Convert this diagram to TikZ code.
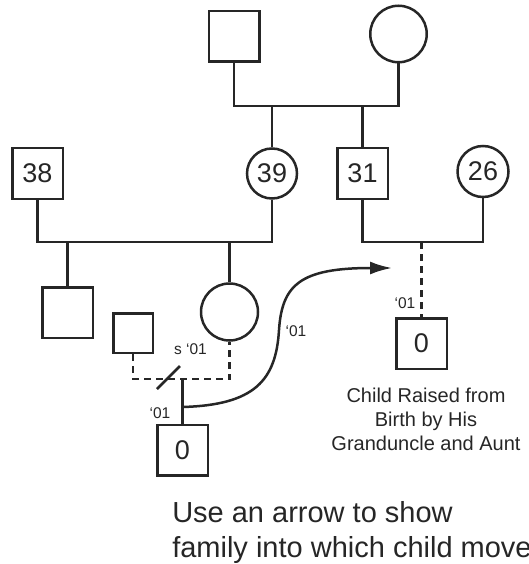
\documentclass[tikz,border=0pt]{standalone}
\usepackage{fontspec}
\setmainfont{Liberation Sans}
\usetikzlibrary{arrows.meta}
\begin{document}
\begin{tikzpicture}[x=1pt,y=-1pt, line width=2.5pt, color={black!85},
  male/.style={draw, rectangle, minimum size=50.5pt, inner sep=0pt, font=\fontsize{27}{30}\selectfont},
  female/.style={draw, circle, minimum size=#1, inner sep=0pt, font=\fontsize{27}{30}\selectfont},
  female/.default=50pt,
  lbl/.style={inner sep=0pt, font=\fontsize{15.5}{18}\selectfont},
  dsh/.style={dash pattern=on 7pt off 5pt}]
\useasboundingbox (0,0) rectangle (529,564);
% generation I
\node[male] (gf) at (234,36.5) {};
\node[female=56.5pt] (gm) at (398.5,34) {};
% generation II
\node[male] (n38) at (37.5,173.5) {38};
\node[female=50pt] (n39) at (272,173.5) {39};
\node[male] (n31) at (362.5,173.5) {31};
\node[female=51pt] (n26) at (483,171.5) {26};
% generation III
\node[male] (c1) at (67.5,312.5) {};
\node[female=57pt] (c2) at (229.5,312) {};
\node[male, minimum size=39.5pt] (sp) at (133,333) {};
% generation IV
\node[male] (ch) at (182.5,450) {0};
\node[male] (rc) at (421.5,343.5) {0};
% relationship lines
\coordinate (m1) at (300,106);
\coordinate (m2) at (150,242);
\coordinate (m3) at (420,242);
\coordinate (m4) at (181,379);
\draw (gf.south) |- (m1) -| (gm.south);
\draw (n39.north) -- (n39.north |- m1);
\draw (n31.north) -- (n31.north |- m1);
\draw (n38.south) |- (m2) -| (n39.south);
\draw (c1.north) -- (c1.north |- m2);
\draw (c2.north) -- (c2.north |- m2);
\draw (n31.south) |- (m3) -| (n26.south);
\draw[dsh] (rc.north |- m3) -- (rc.north);
\draw[dsh] (sp.south) |- (m4) -| (c2.south);
\draw (ch.north) -- (ch.north |- m4);
\coordinate (s1) at (157,389);
\coordinate (s2) at (180,366);
\draw (s1) -- (s2);
% move arrow
\coordinate (cs) at (ch.north |- 0,407);
\coordinate (tip) at (392,268);
\draw[-{Latex[length=22pt,width=13pt]}] (cs) .. controls (255,405) and (276,380) .. (279,330)
   .. controls (282,285) and (300,268) .. (tip);
% labels
\node[lbl] at (190.5,349) {s ‘01};
\node[lbl] at (160,413) {‘01};
\node[lbl] at (296,331) {‘01};
\node[lbl] at (405,303) {‘01};
\node[inner sep=0pt, anchor=north, align=center, font=\fontsize{20}{24}\selectfont] (cap) at (426,386.5)
  {Child Raised from\\Birth by His\\Granduncle and Aunt};
\node[inner sep=0pt, anchor=north west, align=left, font=\fontsize{29}{35}\selectfont] (note) at (171,500)
  {Use an arrow to show\\family into which child moves};
\end{tikzpicture}
\end{document}
